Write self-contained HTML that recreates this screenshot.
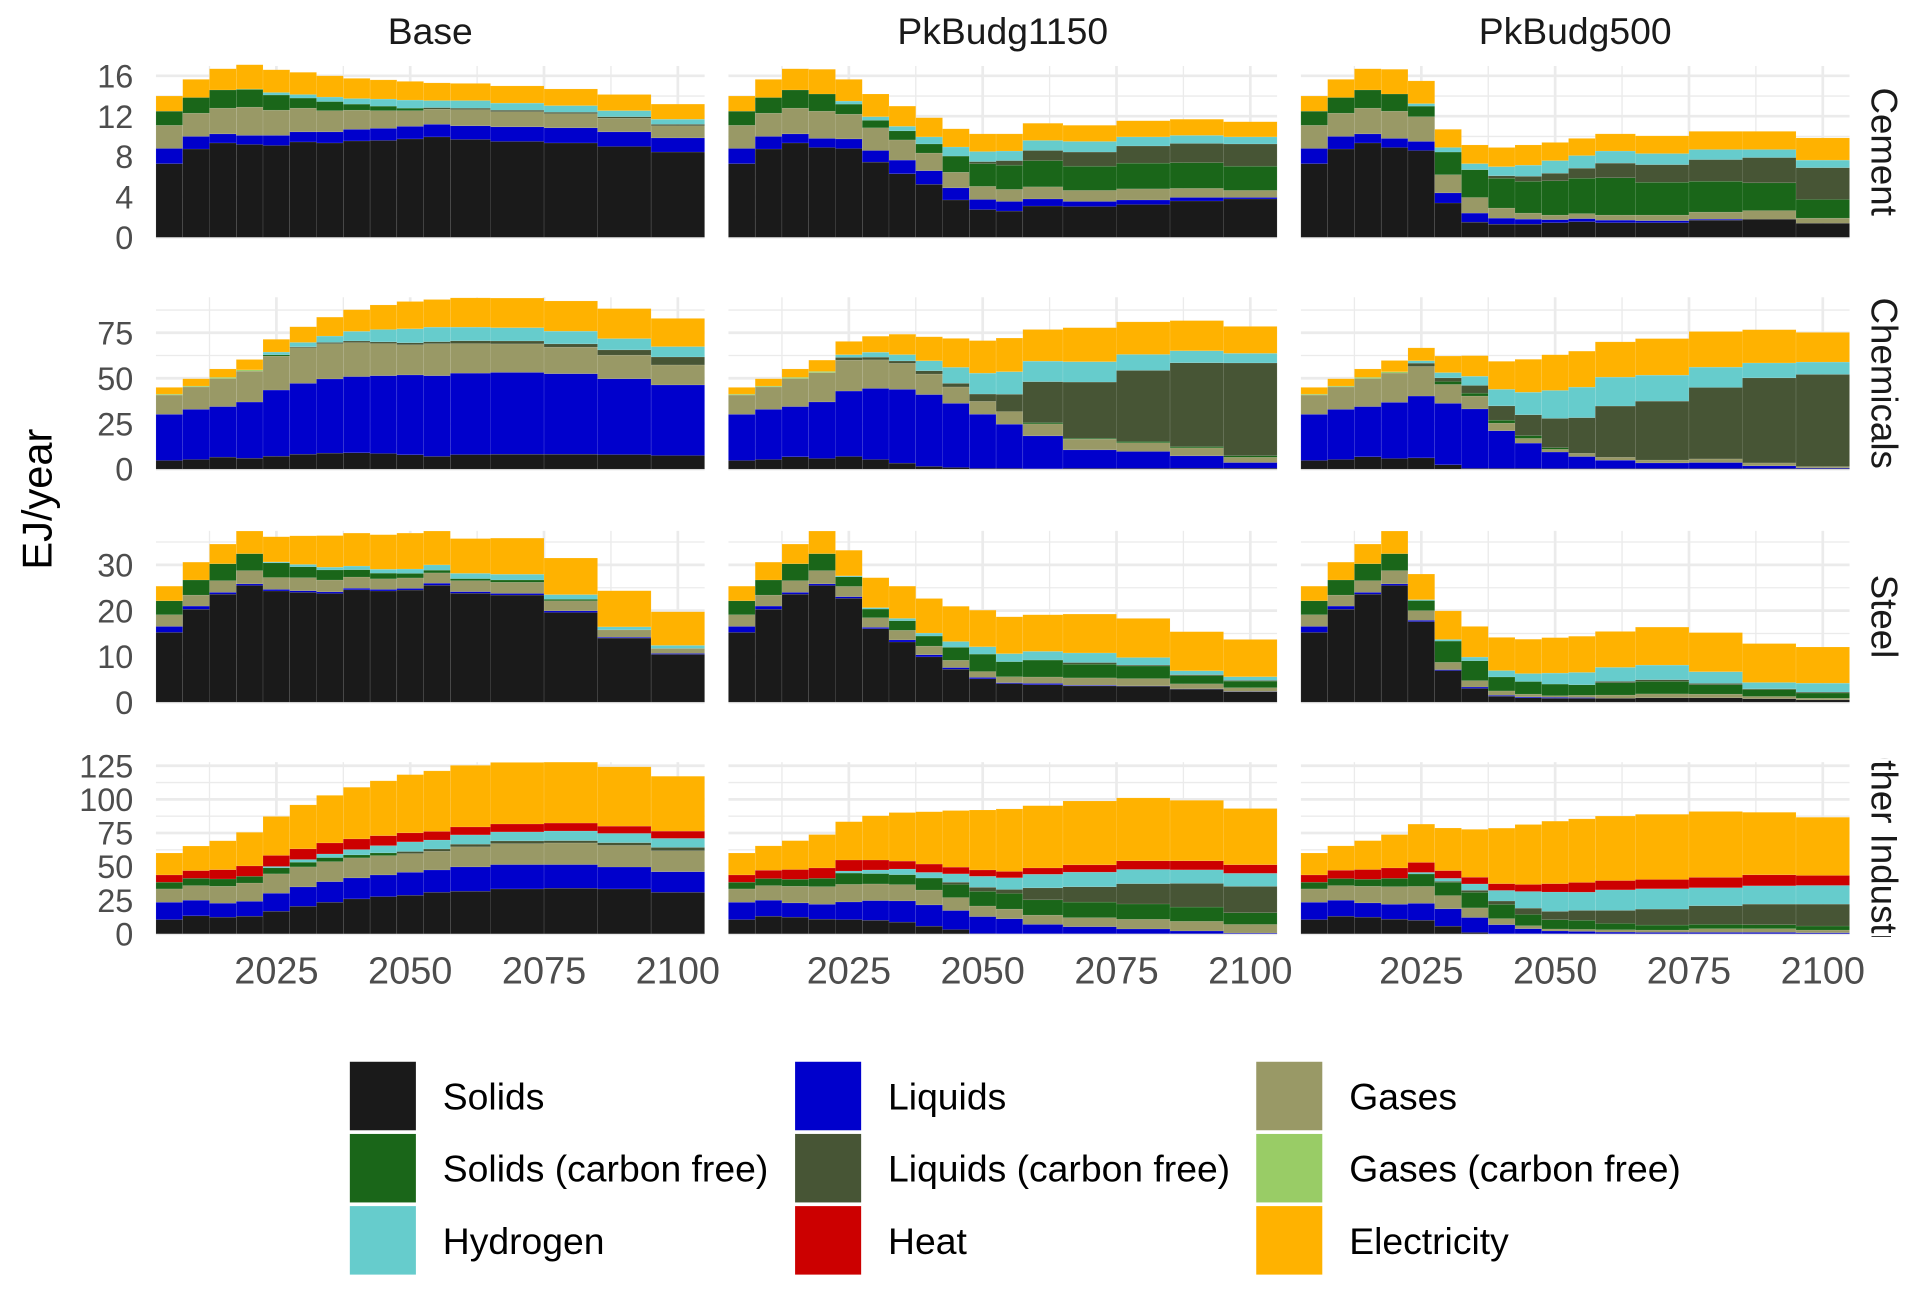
<!DOCTYPE html>
<html><head><meta charset="utf-8">
<style>
html,body{margin:0;padding:0;background:#fff;}
svg{display:block;font-family:"Liberation Sans",Arial,sans-serif;}
</style></head>
<body>
<svg id="chart" width="1918" height="1291" viewBox="0 0 1568 1055.4" preserveAspectRatio="none" xmlns="http://www.w3.org/2000/svg">
<defs><clipPath id="stripClip"><rect x="1515" y="620" width="53" height="146"/></clipPath></defs>
<g id="grid"></g><g id="bars"></g><g id="axes"></g>
<text x="0" y="0" transform="translate(42,408) rotate(-90)" text-anchor="middle" font-size="34" fill="#000">EJ/year</text>
<g id="legend"></g>
</svg>
<script>
const categories = ["Solids","Liquids","Gases","Solids (carbon free)","Liquids (carbon free)","Gases (carbon free)","Hydrogen","Heat","Electricity"];
const colors = ["#1a1a1a","#0000cc","#999966","#1a6619","#475535","#99cc66","#66cccc","#cc0000","#ffb200"];
const years = [2005,2010,2015,2020,2025,2030,2035,2040,2045,2050,2055,2060,2070,2080,2090,2100];
const scenarios = ["Base","PkBudg1150","PkBudg500"];
const sectors = ["Cement","Chemicals","Steel","Other Industry"];
const xTicks = [2025,2050,2075,2100];
const cementTicks = [0,4,8,12,16];
const chemTicks = [0,25,50,75];
const steelTicks = [0,10,20,30];
const otherTicks = [0,25,50,75,100,125];

const cementBase = [[7.3,1.5,2.3,1.4,0,0,0,0,1.5],[8.75,1.25,2.3,1.55,0,0,0,0,1.8],[9.35,0.9,2.55,1.8,0,0,0,0,2.1],[9.2,0.9,2.8,1.75,0,0.05,0,0,2.4],[9.1,1.0,2.5,1.5,0,0,0.25,0,2.25],[9.45,1.0,2.35,1.0,0,0,0.35,0,2.2],[9.35,1.1,2.1,0.9,0,0,0.45,0,2.1],[9.55,1.15,1.9,0.6,0,0,0.55,0,2.0],[9.6,1.2,1.75,0.45,0,0,0.7,0,1.9],[9.75,1.25,1.55,0.25,0,0,0.8,0,1.85],[9.95,1.25,1.5,0,0.15,0,0.7,0,1.75],[9.7,1.35,1.6,0,0.15,0,0.75,0,1.7],[9.5,1.45,1.5,0,0.15,0,0.7,0,1.7],[9.35,1.5,1.4,0,0.15,0,0.65,0,1.65],[9.0,1.45,1.35,0,0.15,0,0.6,0,1.6],[8.45,1.4,1.2,0,0.15,0,0.5,0,1.5]];
const chemBase = [[4.75,25.4,10.6,0,0,0.5,0,0,3.7],[5.3,27.6,12.3,0,0,0.5,0,0,4.0],[6.6,27.8,15.4,0,0,0.7,0,0,4.6],[6.0,30.9,17.0,0,0,0.7,0,0,5.7],[7.1,36.4,18.7,0.7,0,0,1.5,0,7.0],[8.2,39.0,19.6,0,0.5,0,2.4,0,8.6],[8.8,40.8,19.4,0,0.7,0,3.5,0,10.4],[9.0,41.9,18.7,0,0.9,0,5.3,0,11.9],[8.6,42.8,17.7,0,0.9,0,6.8,0,13.5],[7.9,43.9,16.6,0,1.1,0,7.7,0,15.0],[7.0,44.4,17.6,0,1.1,0,8.0,0,15.2],[8.0,44.8,16.3,0,1.5,0,7.5,0,16.1],[8.2,45.0,15.7,0,1.6,0,7.3,0,16.3],[8.2,44.3,14.6,0,1.8,0,7.0,0,16.6],[8.0,41.7,13.0,0,2.9,0,6.2,0,16.5],[7.5,38.8,11.0,0,4.4,0,5.7,0,15.5]];
const steelBase = [[15.25,1.3,2.55,3.05,0,0,0,0,3.2],[20.3,0.7,2.4,3.3,0,0,0,0,3.9],[23.6,0.4,2.55,3.7,0,0,0,0,4.3],[25.5,0.35,2.9,3.7,0,0,0,0,4.95],[24.3,0.35,2.6,3.2,0,0,0.2,0,5.5],[24.0,0.35,2.85,2.4,0,0,0.5,0,6.25],[23.75,0.35,2.6,2.2,0,0,0.6,0,6.9],[24.55,0.35,2.45,1.6,0,0,0.8,0,7.2],[24.3,0.35,2.3,1.25,0,0,0.85,0,7.55],[24.5,0.35,2.3,1.0,0,0,0.95,0,7.85],[25.55,0.45,2.25,0.6,0,0,1.15,0,7.4],[23.8,0.35,2.4,0.45,0,0,1.15,0,7.6],[23.4,0.35,2.45,0.5,0,0,1.25,0,7.9],[19.6,0.35,2.2,0.35,0,0,1.0,0,8.0],[14.0,0.2,1.6,0,0,0,0.65,0,7.9],[10.45,0.2,1.1,0,0,0,0.65,0,7.35]];
const otherBase = [[10.6,12.9,9.9,5.0,0,0,0,5.4,16.3],[13.4,11.6,10.9,5.4,0,0,0,5.7,18.3],[12.4,10.4,12.6,5.4,0,0,0,6.9,21.5],[13.1,11.1,13.6,5.0,0,0,0,7.7,25.0],[16.8,13.4,14.4,4.5,0,0,1.0,8.2,29.0],[20.5,14.4,14.9,3.5,0,0,2.0,7.9,32.7],[23.5,15.3,14.9,3.0,0,0,2.7,8.2,35.4],[26.0,15.6,14.9,2.2,0,0,4.0,7.9,38.4],[27.7,16.1,14.4,2.0,0,0,5.4,7.4,40.8],[28.7,17.1,13.9,0,1.5,0,7.2,6.7,43.3],[30.9,16.6,13.9,0,1.7,0,6.7,6.4,45.0],[31.7,18.1,14.9,0,2.0,0,6.9,5.9,45.8],[33.4,18.1,15.6,0,2.0,0,6.7,5.9,45.8],[33.9,17.6,16.1,0,1.7,0,7.2,5.9,45.3],[33.4,16.3,16.1,0,2.0,0,6.9,5.4,44.1],[30.9,15.3,15.6,0,2.5,0,6.7,5.4,40.8]];

const cement1150 = [[7.3,1.5,2.3,1.4,0,0,0,0,1.5],[8.75,1.25,2.3,1.55,0,0,0,0,1.8],[9.35,0.9,2.55,1.8,0,0,0,0,2.1],[8.9,0.9,2.7,1.7,0,0,0,0,2.45],[8.8,0.95,2.45,1.0,0,0,0.3,0,2.15],[7.45,1.15,2.25,0.75,0,0,0.35,0,2.25],[6.3,1.35,2.0,0.9,0,0,0.45,0,2.0],[5.25,1.35,1.75,0.9,0,0,0.7,0,1.9],[3.7,1.2,1.55,1.6,0,0,0.9,0,1.8],[2.75,1.0,1.3,2.25,0.2,0,1.0,0,1.75],[2.6,0.95,1.2,2.4,0.45,0,0.95,0,1.7],[3.1,0.7,1.2,2.6,1.0,0,1.0,0,1.7],[3.05,0.5,1.1,2.4,1.4,0,1.05,0,1.6],[3.25,0.45,1.1,2.55,1.7,0,0.9,0,1.6],[3.6,0.35,0.9,2.55,1.9,0,0.8,0,1.6],[3.8,0.15,0.7,2.4,2.2,0,0.7,0,1.5]];
const chem1150 = [[4.75,25.4,10.6,0,0,0.5,0,0,3.7],[5.3,27.6,12.3,0,0,0.5,0,0,4.0],[6.8,27.6,15.4,0,0,0.7,0,0,4.6],[5.85,31.1,16.1,0,0,0.7,0,0,6.2],[6.95,36.0,17.0,0,1.5,0,1.5,0,7.3],[5.3,39.1,15.7,0,1.5,0,2.7,0,8.8],[3.3,40.6,14.3,0,1.3,0,3.5,0,11.2],[1.5,39.5,11.3,0,1.8,0,5.5,0,13.2],[0.9,35.3,9.0,0,2.0,0,8.8,0,15.9],[0.4,29.8,7.1,0,4.0,0,11.5,0,17.9],[0.4,24.3,7.0,0,9.5,0,12.4,0,18.5],[0.2,18.1,6.6,0.7,22.5,0,11.3,0,17.4],[0.4,10.2,5.9,0.5,30.9,0,11.2,0,18.7],[0.4,9.3,4.8,0.7,39.1,0,8.8,0,17.9],[0.5,6.8,4.4,0.7,46.1,0,6.6,0,16.6],[0.5,3.1,2.9,0.9,51.0,0,5.3,0,14.8]];
const steel1150 = [[15.25,1.3,2.55,3.05,0,0,0,0,3.2],[20.3,0.7,2.4,3.3,0,0,0,0,3.9],[23.6,0.4,2.55,3.7,0,0,0,0,4.3],[25.5,0.35,2.9,3.7,0,0,0,0,4.95],[22.7,0.35,2.25,2.1,0,0,0.2,0,5.6],[16.05,0.3,2.1,1.9,0,0,0.3,0,6.55],[13.15,0.45,2.1,2.1,0,0,0.5,0,7.05],[9.9,0.45,1.9,2.2,0,0,0.65,0,7.55],[7.2,0.35,1.6,2.85,0,0,1.25,0,7.7],[5.1,0.3,1.3,3.8,0,0,1.6,0,8.0],[4.05,0.2,1.3,3.3,0,0,1.75,0,8.05],[3.8,0.3,1.4,3.7,0,0,1.9,0,8.0],[3.55,0.15,1.6,3.0,0.35,0,2.1,0,8.5],[3.5,0.05,1.6,2.75,0.2,0,1.65,0,8.55],[2.85,0.05,1.1,1.8,0.2,0,0.85,0,8.55],[2.3,0.05,0.8,1.45,0.15,0,0.8,0,8.15]];
const other1150 = [[10.6,12.9,9.9,5.0,0,0,0,5.4,16.3],[13.1,11.9,10.9,5.2,0,0,0,6.2,18.1],[12.4,10.6,12.4,5.2,0,0,0,7.2,21.5],[10.9,11.1,13.1,6.2,0,0,0,7.7,24.8],[10.6,13.1,13.1,8.4,0,0,1.5,8.2,28.5],[10.1,14.6,12.4,7.7,0,0,2.7,7.4,32.9],[8.7,15.8,12.1,7.4,0,0,4.2,5.9,36.1],[5.7,15.8,11.1,8.9,0,0,4.2,6.2,38.9],[3.2,14.1,9.7,9.7,1.7,0,6.2,5.0,42.1],[0.2,12.6,7.9,10.9,3.0,0,8.2,4.7,44.6],[0.1,11.1,7.2,11.6,3.0,0,8.7,4.7,46.5],[0.1,6.9,6.9,11.4,8.9,0,10.1,4.7,46.3],[0.1,5.2,6.7,11.6,11.4,0,10.9,5.4,47.5],[0.1,3.5,7.2,11.4,15.1,0,10.6,6.4,46.8],[0.1,2.0,7.2,10.6,17.6,0,10.1,6.7,45.0],[0.1,0.5,6.4,8.7,19.6,0,9.7,6.4,41.8]];

const cement500 = [[7.3,1.5,2.3,1.4,0,0,0,0,1.5],[8.75,1.25,2.3,1.55,0,0,0,0,1.8],[9.35,0.9,2.55,1.8,0,0,0,0,2.1],[8.9,0.9,2.7,1.7,0,0,0,0,2.45],[8.6,0.9,2.45,1.05,0,0,0.25,0,2.25],[3.4,1.0,1.8,2.25,0,0,0.45,0,1.8],[1.5,0.9,1.55,2.75,0,0,0.6,0,1.85],[1.3,0.6,1.0,2.95,0.25,0,0.9,0,1.9],[1.3,0.5,0.6,3.15,0.5,0,1.1,0,2.0],[1.45,0.3,0.45,3.4,0.75,0,1.25,0,1.8],[1.55,0.3,0.5,3.5,1.0,0,1.25,0,1.7],[1.45,0.25,0.5,3.7,1.45,0,1.2,0,1.7],[1.45,0.2,0.55,3.25,1.75,0,1.1,0,1.75],[1.7,0.1,0.7,3.05,2.15,0,1.0,0,1.8],[1.8,0,0.85,2.75,2.5,0,0.8,0,1.8],[1.4,0,0.5,1.85,3.15,0,0.75,0,2.2]];
const chem500 = [[4.75,25.4,10.6,0,0,0.5,0,0,3.7],[5.3,27.6,12.3,0,0,0.5,0,0,4.0],[6.8,27.6,15.4,0,0,0.7,0,0,4.6],[5.85,30.9,16.1,0,0,0.7,0,0,6.2],[6.2,34.0,16.3,0,1.8,0,1.3,0,7.1],[2.4,33.8,10.4,1.6,2.0,0,2.9,0,9.1],[0.4,32.7,7.1,1.6,4.2,0,5.1,0,11.3],[0.4,20.7,4.2,1.6,7.9,0,9.1,0,15.4],[0.4,13.9,2.6,1.5,11.5,0,12.4,0,18.1],[0.3,9.1,1.5,0.9,16.1,0,15.4,0,19.6],[0.3,6.6,1.8,0,19.6,0,16.8,0,19.8],[0.3,4.6,1.6,0,28.2,0,15.9,0,19.4],[0.3,3.1,1.6,0,32.4,0,14.3,0,20.1],[0.3,3.3,2.0,0,39.3,0,11.2,0,19.6],[0.3,1.5,1.6,0,46.8,0,8.2,0,18.3],[0.3,0.4,0.7,0,50.7,0,6.8,0,16.3]];
const steel500 = [[15.25,1.3,2.55,3.05,0,0,0,0,3.2],[20.3,0.7,2.4,3.3,0,0,0,0,3.9],[23.6,0.4,2.55,3.7,0,0,0,0,4.3],[25.5,0.35,2.9,3.7,0,0,0,0,4.95],[17.6,0.3,2.1,2.2,0,0,0.2,0,5.6],[6.9,0.2,1.6,4.65,0,0,0.35,0,6.25],[3.0,0.3,1.4,4.35,0,0,0.8,0,6.7],[1.3,0.2,0.95,3.05,0,0,1.4,0,7.25],[0.95,0.2,0.6,2.75,0,0,1.75,0,7.5],[0.85,0.2,0.35,2.55,0,0,2.4,0,7.75],[0.85,0.15,0.5,2.3,0,0,2.7,0,7.9],[0.85,0,0.7,2.7,0.3,0,3.05,0,7.85],[0.95,0,0.85,2.75,0.35,0,3.2,0,8.3],[0.95,0,0.8,2.05,0.3,0,2.55,0,8.55],[0.75,0,0.5,1.5,0.15,0,1.4,0,8.5],[0.5,0,0.35,1.15,0.2,0,1.95,0,7.9]];
const other500 = [[10.6,12.9,9.9,5.0,0,0,0,5.4,16.3],[13.1,11.9,10.9,5.2,0,0,0,6.2,18.1],[12.4,10.6,12.4,5.2,0,0,0,7.2,21.5],[10.9,11.1,13.1,6.2,0,0,0,7.7,24.8],[10.1,12.6,12.6,9.2,0,0,1.2,7.4,28.5],[5.7,12.9,9.9,9.9,0.7,0,2.2,5.7,31.7],[1.0,11.1,7.2,11.6,1.5,0,4.7,5.0,35.6],[0.1,6.7,4.5,10.6,2.5,0,7.9,5.0,41.3],[0.1,3.7,2.2,8.4,4.7,0,12.4,5.2,44.6],[0.1,2.0,1.5,6.9,6.2,0,14.4,6.2,46.5],[0.1,1.7,1.5,6.7,7.4,0,13.6,7.2,47.3],[0.1,1.2,1.7,4.7,9.7,0,15.3,6.9,48.0],[0.1,1.0,1.7,3.7,11.9,0,15.1,6.9,48.5],[0.1,1.0,2.7,3.2,13.9,0,13.4,7.7,49.0],[0.1,1.0,2.7,3.0,15.3,0,13.6,8.2,46.5],[0.1,0.7,2.0,3.0,16.3,0,13.9,7.4,43.3]];

const panelData = [[cementBase,cement1150,cement500],[chemBase,chem1150,chem500],[steelBase,steel1150,steel500],[otherBase,other1150,other500]];
const rowTicks = [cementTicks,chemTicks,steelTicks,otherTicks];

const NS = "http://www.w3.org/2000/svg";
const colLeft = [127.5, 595.5, 1063.5];
const rowBottom = [194, 383.5, 574, 763.4];
const rowTop = [54, 243, 434, 623];
const rowScale = [8.25, 1.486, 3.74, 1.099];
const pxPerYear = 4.376;
const xMin = 2002.5, xMax = 2105;
function xPos(col, yr){ return colLeft[col] + (yr - xMin) * pxPerYear; }
function yPos(row, v){ return rowBottom[row] - v * rowScale[row]; }
function mk(tag, attrs, parent){ const e=document.createElementNS(NS,tag); for(const k in attrs) e.setAttribute(k,attrs[k]); parent.appendChild(e); return e; }

const gGrid = document.getElementById('grid');
const gBars = document.getElementById('bars');
const gAxes = document.getElementById('axes');

const edges = years.map((y,i)=>{
  const lo = i===0 ? y-2.5 : (years[i-1]+y)/2;
  const hi = i===years.length-1 ? y+5 : (years[i+1]+y)/2;
  return [lo,hi];
});

for(let r=0;r<4;r++){
  const ticks = rowTicks[r];
  const step = ticks[1]-ticks[0];
  for(let c=0;c<3;c++){
    const x0 = xPos(c,xMin), x1 = xPos(c,xMax);
    const panel = mk('g',{},gGrid);
    
    
    for(let v=step/2; yPos(r,v)>rowTop[r]; v+=step){
      mk('line',{x1:x0,x2:x1,y1:yPos(r,v),y2:yPos(r,v),stroke:'#ebebeb','stroke-width':1.1},panel);
    }
    ticks.forEach(v=>{ mk('line',{x1:x0,x2:x1,y1:yPos(r,v),y2:yPos(r,v),stroke:'#ebebeb','stroke-width':2.2},panel); });
    [2012.5,2037.5,2062.5,2087.5].forEach(yr=>{ mk('line',{x1:xPos(c,yr),x2:xPos(c,yr),y1:rowTop[r],y2:rowBottom[r],stroke:'#ebebeb','stroke-width':1.1},panel); });
    xTicks.forEach(yr=>{ mk('line',{x1:xPos(c,yr),x2:xPos(c,yr),y1:rowTop[r],y2:rowBottom[r],stroke:'#ebebeb','stroke-width':2.2},panel); });

    const data = panelData[r][c];
    const bg = mk('g',{},gBars);
    
    
    data.forEach((vals,i)=>{
      let cum = 0;
      const xa = xPos(c,edges[i][0]), xb = xPos(c,edges[i][1]);
      vals.forEach((v,k)=>{
        if(v<=0) return;
        const yt = yPos(r,cum+v), yb = yPos(r,cum);
        const rect = mk('rect',{x:xa,y:yt,width:xb-xa,height:yb-yt,fill:colors[k],stroke:'#ffffff','stroke-opacity':0.18,'stroke-width':0.4},bg);
        
        
        cum += v;
      });
    });

    if(c===0){
      ticks.forEach(v=>{
        const t = mk('text',{x:109,y:yPos(r,v)+9.5,'text-anchor':'end','font-size':26.5,fill:'#4d4d4d'},gAxes);
        t.textContent = v;
        
        
      });
    }
    if(r===3){
      xTicks.forEach(yr=>{
        const t = mk('text',{x:xPos(c,yr),y:804,'text-anchor':'middle','font-size':31,fill:'#4d4d4d'},gAxes);
        t.textContent = yr;
        
        
      });
    }
  }
  const cy = (rowTop[r]+rowBottom[r])/2;
  const sg = mk('g',{},gAxes);
  if(r===3) sg.setAttribute('clip-path','url(#stripClip)');
  const st = mk('text',{x:0,y:0,transform:'translate(1530,'+cy+') rotate(90)','text-anchor':'middle','font-size':30,fill:'#1a1a1a'},sg);
  st.textContent = sectors[r];
  
  
}
scenarios.forEach((s,c)=>{
  const t = mk('text',{x:(xPos(c,xMin)+xPos(c,xMax))/2,y:36,'text-anchor':'middle','font-size':30.5,fill:'#1a1a1a'},gAxes);
  t.textContent = s;
  
  
});
const gLeg = document.getElementById('legend');
const legX = [286, 650, 1027], legY = [868, 927, 986];
categories.forEach((name,i)=>{
  const col = i%3, row = Math.floor(i/3);
  const g = mk('g',{},gLeg);
  
  
  mk('rect',{x:legX[col],y:legY[row],width:54,height:56,fill:colors[i]},g);
  const t = mk('text',{x:legX[col]+76,y:legY[row]+39,'font-size':30.5,fill:'#000'},g);
  t.textContent = name;
});
</script>
</body></html>
